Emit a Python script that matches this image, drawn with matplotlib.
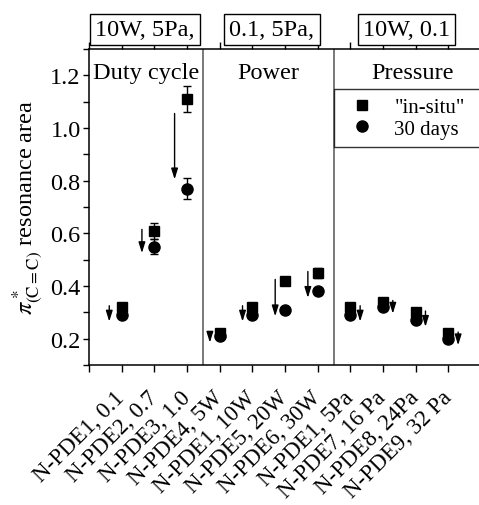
import matplotlib
matplotlib.use("Agg")
import matplotlib.pyplot as plt
from matplotlib.lines import Line2D
from matplotlib.ticker import MultipleLocator

plt.rcParams["font.family"] = "serif"
plt.rcParams["font.serif"] = ["Liberation Serif", "Times New Roman", "DejaVu Serif"]
plt.rcParams["mathtext.fontset"] = "stix"
plt.rcParams["font.size"] = 17.5

# Samples grouped by the varied deposition parameter
samples = ["N-PDE1, 0.1", "N-PDE2, 0.7", "N-PDE3, 1.0",
           "N-PDE4, 5W", "N-PDE1, 10W", "N-PDE5, 20W", "N-PDE6, 30W",
           "N-PDE1, 5Pa", "N-PDE7, 16 Pa", "N-PDE8, 24Pa", "N-PDE9, 32 Pa"]
group_of = [0, 0, 0, 1, 1, 1, 1, 2, 2, 2, 2]
group_names = ["Duty cycle", "Power", "Pressure"]
group_fixed = ["10W, 5Pa,", "0.1, 5Pa,", "10W, 0.1"]

insitu = [0.32, 0.61, 1.11, 0.22, 0.32, 0.42, 0.45, 0.32, 0.34, 0.30, 0.22]
insitu_err = [0.01, 0.03, 0.05, 0.01, 0.01, 0.015, 0.02, 0.01, 0.01, 0.01, 0.01]
aged = [0.29, 0.55, 0.77, 0.21, 0.29, 0.31, 0.38, 0.29, 0.32, 0.27, 0.20]
aged_err = [0.01, 0.03, 0.04, 0.01, 0.01, 0.01, 0.01, 0.01, 0.01, 0.01, 0.01]

fig = plt.figure(figsize=(4.79, 5.06), dpi=100)
ax = fig.add_axes([89 / 479, 140 / 506, 392 / 479, 316 / 506])

x = list(range(1, len(samples) + 1))
ax.errorbar(x, insitu, yerr=insitu_err, fmt="s", color="k", ms=7.2,
            capsize=2.6, elinewidth=1, capthick=1, zorder=3)
ax.errorbar(x, aged, yerr=aged_err, fmt="o", color="k", ms=8,
            capsize=2.6, elinewidth=1, capthick=1, zorder=3)

# Arrows marking the change after ageing
arrow_side = [-0.38, -0.3, 0.3]
for xi, s, a, g in zip(x, insitu, aged, group_of):
    gap = s - a
    length = max(min(gap + 0.03, 0.25), 0.035)
    mid = (s + a) / 2 - 0.01
    ax.annotate("", xy=(xi + arrow_side[g], mid - length / 2),
                xytext=(xi + arrow_side[g], mid + length / 2),
                arrowprops=dict(arrowstyle="-|>,head_width=0.25,head_length=0.8",
                                lw=1, color="k", mutation_scale=8,
                                shrinkA=0, shrinkB=0))

# Group separators and labels
for b in [3.5, 7.5]:
    ax.axvline(b, color="#555555", lw=1.1, zorder=1)
for gi, lx in enumerate([1.75, 5.5, 9.9]):
    ax.text(lx, 0.925, group_names[gi], transform=ax.get_xaxis_transform(),
            ha="center", va="center", fontsize=17.5)
for gi, bx in enumerate([1.72, 5.6, 9.72]):
    ax.text(bx, 1.062, group_fixed[gi],
            transform=ax.get_xaxis_transform(), ha="center", va="center",
            fontsize=17.5, clip_on=False,
            bbox=dict(boxstyle="square,pad=0.22", fc="white", ec="k", lw=1))

ax.set_xlim(0, 12)
ax.set_ylim(0.1, 1.3)
ax.set_xticks([0] + x)
ax.set_xticklabels([""] + samples, rotation=45, ha="right",
                   rotation_mode="anchor", va="center", fontsize=16.5)
ax.yaxis.set_minor_locator(MultipleLocator(0.1))
ax.set_yticks([0.2, 0.4, 0.6, 0.8, 1.0, 1.2])
ax.set_yticklabels(["0.2", "0.4", "0.6", "0.8", "1.0", "1.2"])
ax.tick_params(axis="x", direction="out", length=5, width=1, top=True, pad=16)
ax.tick_params(axis="y", which="both", direction="out", length=4, width=1,
               right=True, pad=2)
for sp in ax.spines.values():
    sp.set_linewidth(1.1)

ax.set_ylabel(r"$\pi^*_{(\mathrm{C{=}C})}$ resonance area", fontsize=17.5, labelpad=4)

handles = [Line2D([], [], ls="none", marker="s", color="k", ms=7.2),
           Line2D([], [], ls="none", marker="o", color="k", ms=8)]
leg = ax.legend(handles, ['"in-situ"', "30 days"], loc="upper left",
                bbox_to_anchor=(0.625, 0.4, 0.42, 0.473), mode="expand",
                frameon=True, fancybox=False, edgecolor="k",
                handletextpad=0.6, labelspacing=0.1, borderpad=0.4,
                handlelength=1.9, borderaxespad=0, fontsize=15)
leg.get_frame().set_linewidth(1)

fig.savefig("out.png", dpi=100)
